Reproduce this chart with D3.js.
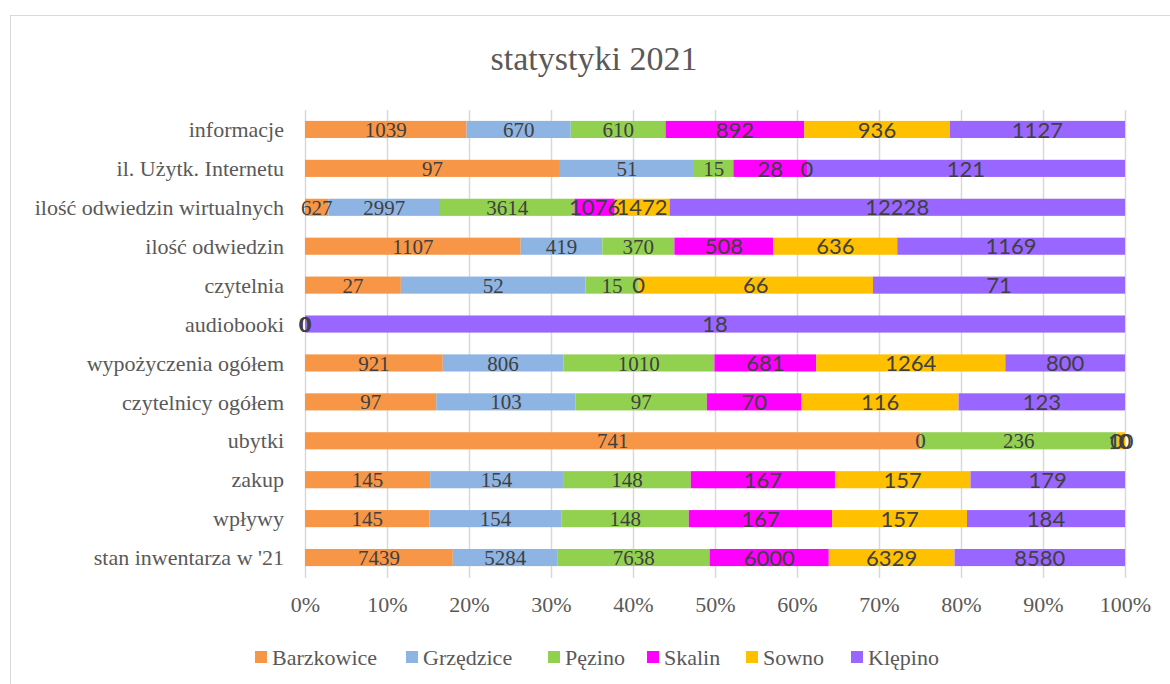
<!DOCTYPE html>
<html>
<head>
<meta charset="utf-8">
<script src="https://cdn.jsdelivr.net/npm/d3@7"></script>
<style>
  body { margin: 0; background: #fff; }
  svg { display: block; }
</style>
</head>
<body>
<div id="chart"></div>
<script>
// categories, top to bottom as in the chart
var categories = ["informacje", "il. Użytk. Internetu", "ilość odwiedzin wirtualnych", "ilość odwiedzin",
  "czytelnia", "audiobooki", "wypożyczenia ogółem", "czytelnicy ogółem", "ubytki", "zakup", "wpływy",
  "stan inwentarza w '21"];

var seriesNames = ["Barzkowice", "Grzędzice", "Pęzino", "Skalin", "Sowno", "Klępino"];
var seriesColors = ["#F79646", "#8DB4E2", "#92D050", "#FF00FF", "#FFC000", "#9966FF"];

// values per series, same order as categories
var barzkowice = [1039, 97, 627, 1107, 27, 0, 921, 97, 741, 145, 145, 7439];
var grzedzice  = [670, 51, 2997, 419, 52, 0, 806, 103, 0, 154, 154, 5284];
var pezino     = [610, 15, 3614, 370, 15, 0, 1010, 97, 236, 148, 148, 7638];
var skalin     = [892, 28, 1076, 508, 0, 0, 681, 70, 0, 167, 167, 6000];
var sowno      = [936, 0, 1472, 636, 66, 0, 1264, 116, 10, 157, 157, 6329];
var klepino    = [1127, 121, 12228, 1169, 71, 18, 800, 123, 0, 179, 184, 8580];

var tickValues = [0, 0.1, 0.2, 0.3, 0.4, 0.5, 0.6, 0.7, 0.8, 0.9, 1];

var allSeries = [barzkowice, grzedzice, pezino, skalin, sowno, klepino];

var W = 1170, H = 684;
var margin = {top: 110, left: 305, right: 45, bottom: 107};
var innerW = W - margin.left - margin.right,
    innerH = H - margin.top - margin.bottom;

var serif = "'Liberation Serif', 'DejaVu Serif', serif";
var sans = "Lato, 'Open Sans', sans-serif";

var svg = d3.select("#chart").append("svg")
  .attr("width", W)
  .attr("height", H);

// chart frame
svg.append("rect")
  .attr("x", 10.5).attr("y", 15.5)
  .attr("width", W + 10).attr("height", H + 10)
  .attr("fill", "#fff")
  .attr("stroke", "#d9d9d9");

svg.append("text")
  .attr("x", 594).attr("y", 70)
  .attr("text-anchor", "middle")
  .style("font-family", serif)
  .style("font-size", "34px")
  .style("fill", "#595959")
  .text("statystyki 2021");

var g = svg.append("g")
  .attr("transform", "translate(" + margin.left + "," + margin.top + ")");

var x = d3.scaleLinear().domain([0, 1]).range([0, innerW]);
var y = d3.scaleBand().domain(categories).range([0, innerH]).paddingInner(0.56).paddingOuter(0.28);

// build rows for d3.stack
var rows = categories.map(function(c, i) {
  var row = {cat: c}, total = 0;
  seriesNames.forEach(function(s, j) { total += allSeries[j][i]; });
  seriesNames.forEach(function(s, j) {
    row[s] = total ? allSeries[j][i] / total : 0;
    row[s + "_raw"] = allSeries[j][i];
  });
  return row;
});

var stacked = d3.stack().keys(seriesNames)(rows);

// gridlines
g.selectAll(".grid")
  .data(tickValues)
  .enter().append("line")
  .attr("x1", function(d) { return Math.round(x(d)) + 0.5; })
  .attr("x2", function(d) { return Math.round(x(d)) + 0.5; })
  .attr("y1", 0)
  .attr("y2", innerH + 1)
  .attr("stroke", "#d9d9d9")
  .attr("stroke-width", 1.5);

var layers = g.selectAll(".layer")
  .data(stacked)
  .enter().append("g")
  .attr("fill", function(d, i) { return seriesColors[i]; });

layers.selectAll("rect")
  .data(function(d) { return d; })
  .enter().append("rect")
  .attr("x", function(d) { return x(d[0]); })
  .attr("width", function(d) { return x(d[1]) - x(d[0]); })
  .attr("y", function(d) { return y(d.data.cat); })
  .attr("height", y.bandwidth());

// value labels drawn on top of all bars
// first three series serif gray, last three sans dark
var labelLayer = g.append("g");
stacked.forEach(function(layer, i) {
  var key = layer.key;
  labelLayer.append("g").selectAll("text")
    .data(layer)
    .enter().append("text")
    .attr("x", function(d) { return x((d[0] + d[1]) / 2); })
    .attr("y", function(d) { return y(d.data.cat) + y.bandwidth() / 2; })
    .attr("dy", i < 3 ? "0.36em" : "0.37em")
    .attr("text-anchor", "middle")
    .style("font-family", i < 3 ? serif : sans)
    .style("font-size", i < 3 ? "21px" : "22px")
    .style("fill", "#404040")
    .text(function(d) { return d.data[key + "_raw"]; });
});

// category labels
g.selectAll(".cat")
  .data(categories)
  .enter().append("text")
  .attr("x", -21)
  .attr("y", function(d) { return y(d) + y.bandwidth() / 2; })
  .attr("dy", "0.35em")
  .attr("text-anchor", "end")
  .style("font-family", serif)
  .style("font-size", "22px")
  .style("fill", "#595959")
  .text(function(d) { return d; });

// x axis
var xAxis = g.append("g")
  .attr("transform", "translate(0," + (innerH + 16) + ")")
  .call(d3.axisBottom(x).tickValues(tickValues).tickFormat(d3.format(".0%")).tickSize(0));
xAxis.select(".domain").remove();
xAxis.selectAll("text")
  .style("font-family", serif)
  .style("font-size", "22px")
  .style("fill", "#595959");

// legend
var legendX = [255, 406, 548, 647, 746, 851];
var legend = svg.append("g").attr("transform", "translate(0,657)");
var items = legend.selectAll("g")
  .data(seriesNames)
  .enter().append("g")
  .attr("transform", function(d, i) { return "translate(" + legendX[i] + ",0)"; });
items.append("rect")
  .attr("x", 0).attr("y", -6)
  .attr("width", 12).attr("height", 12)
  .attr("fill", function(d, i) { return seriesColors[i]; });
items.append("text")
  .attr("x", 17)
  .attr("dy", "0.35em")
  .style("font-family", serif)
  .style("font-size", "22px")
  .style("fill", "#595959")
  .text(function(d) { return d; });
</script>
</body>
</html>
